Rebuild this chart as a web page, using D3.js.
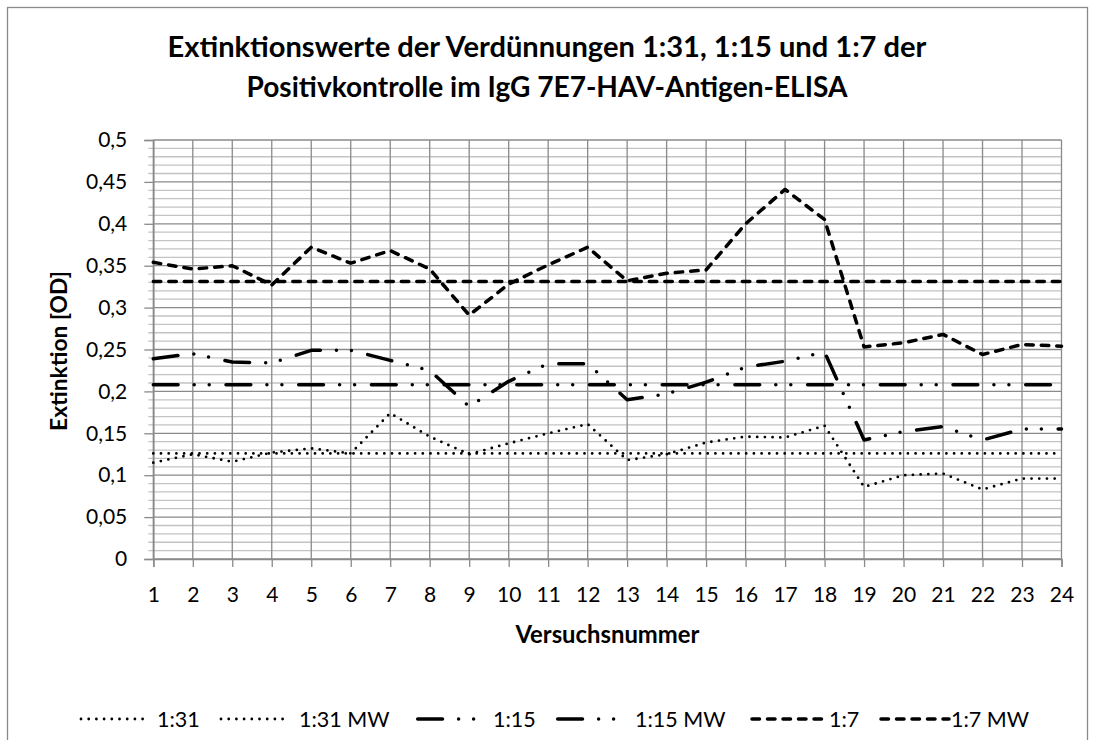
<!DOCTYPE html>
<html>

<head>
    <meta charset="utf-8">
    <title>Extinktionswerte Positivkontrolle</title>
    <script src="https://cdn.jsdelivr.net/npm/d3@7"></script>
    <style>
        body { margin: 0; background: #fff; }
        svg { display: block; font-family: Lato, "Open Sans", sans-serif; }
    </style>
</head>

<body>
    <div id="chart"></div>

    <script>
        // Versuchsnummern (x-Kategorien)
        var versuche = [1, 2, 3, 4, 5, 6, 7, 8, 9, 10, 11, 12, 13, 14, 15, 16, 17, 18, 19, 20, 21, 22, 23, 24];

        // Extinktion [OD] je Verdünnung
        var od131 = [0.115, 0.125, 0.116, 0.127, 0.132, 0.126, 0.174, 0.146, 0.125, 0.138, 0.150, 0.161,
            0.118, 0.125, 0.139, 0.146, 0.145, 0.159, 0.086, 0.100, 0.102, 0.083, 0.096, 0.096];
        var od131MW = [0.126, 0.126, 0.126, 0.126, 0.126, 0.126, 0.126, 0.126, 0.126, 0.126, 0.126, 0.126,
            0.126, 0.126, 0.126, 0.126, 0.126, 0.126, 0.126, 0.126, 0.126, 0.126, 0.126, 0.126];
        var od115 = [0.239, 0.245, 0.235, 0.234, 0.249, 0.249, 0.237, 0.225, 0.182, 0.212, 0.233, 0.233,
            0.190, 0.197, 0.211, 0.229, 0.236, 0.247, 0.142, 0.152, 0.158, 0.142, 0.155, 0.155];
        var od115MW = [0.208, 0.208, 0.208, 0.208, 0.208, 0.208, 0.208, 0.208, 0.208, 0.208, 0.208, 0.208,
            0.208, 0.208, 0.208, 0.208, 0.208, 0.208, 0.208, 0.208, 0.208, 0.208, 0.208, 0.208];
        var od17 = [0.354, 0.346, 0.350, 0.327, 0.372, 0.353, 0.368, 0.346, 0.291, 0.328, 0.351, 0.372,
            0.332, 0.341, 0.345, 0.400, 0.441, 0.405, 0.253, 0.258, 0.268, 0.244, 0.256, 0.254];
        var od17MW = [0.331, 0.331, 0.331, 0.331, 0.331, 0.331, 0.331, 0.331, 0.331, 0.331, 0.331, 0.331,
            0.331, 0.331, 0.331, 0.331, 0.331, 0.331, 0.331, 0.331, 0.331, 0.331, 0.331, 0.331];

        // Achsenbeschriftung
        var yTicks = [0, 0.05, 0.1, 0.15, 0.2, 0.25, 0.3, 0.35, 0.4, 0.45, 0.5];
        var seriesNames = ["1:31", "1:31 MW", "1:15", "1:15 MW", "1:7", "1:7 MW"];
        var titleLines = ["Extinktionswerte der Verdünnungen 1:31, 1:15 und 1:7 der",
            "Positivkontrolle im IgG 7E7-HAV-Antigen-ELISA"];

        // Linienstile (gepunktet, Strich-Punkt-Punkt, gestrichelt)
        var dotted = { width: 2.8, dash: "0 7.7" };
        var dashDotDot = { width: 3.5, dash: "24.8 16.1 0 15 0 16.8" };
        var dashed = { width: 3.5, dash: "7.5 8" };

        var series = [
            { name: seriesNames[0], values: od131, style: dotted },
            { name: seriesNames[1], values: od131MW, style: dotted },
            { name: seriesNames[2], values: od115, style: dashDotDot },
            { name: seriesNames[3], values: od115MW, style: dashDotDot },
            { name: seriesNames[4], values: od17, style: dashed },
            { name: seriesNames[5], values: od17MW, style: dashed }
        ];

        var W = 1095, H = 740;
        var plot = { left: 153.3, right: 1061.5, top: 140, bottom: 559 };
        var gridDark = "#8a8a8a", gridLight = "#c3c3c3";

        var svg = d3.select("#chart").append("svg")
            .attr("width", W)
            .attr("height", H);

        // Text auf eine Zielbreite bringen (Calibri ist nicht vorhanden)
        function fitText(txt, target, base) {
            txt.style("font-size", base + "px");
            var w = txt.node().getComputedTextLength();
            txt.style("font-size", (base * target / w).toFixed(2) + "px");
        }

        // Diagrammrahmen
        svg.append("rect")
            .attr("x", 7.5).attr("y", 7.5)
            .attr("width", 1080).attr("height", 760)
            .attr("fill", "#fff")
            .attr("stroke", "#8a8a8a")
            .attr("stroke-width", 1.3);

        var x = d3.scalePoint().domain(versuche).range([plot.left, plot.right]);
        var y = d3.scaleLinear().domain([0, 0.5]).range([plot.bottom, plot.top]);

        var de = d3.formatLocale({ decimal: ",", thousands: ".", grouping: [3], currency: ["", " €"] });
        var fmt = de.format("~g");

        // Hilfsgitternetz (alle 0,01) inkl. kleiner Teilstriche
        var minor = y.ticks(50).filter(d => yTicks.indexOf(+d.toFixed(2)) < 0);
        svg.append("g").selectAll("line")
            .data(minor)
            .join("line")
            .attr("x1", plot.left - 5).attr("x2", plot.right)
            .attr("y1", d => y(d)).attr("y2", d => y(d))
            .attr("stroke", gridLight)
            .attr("stroke-width", 1.3);

        // Hauptgitternetz horizontal
        svg.append("g").selectAll("line")
            .data(yTicks)
            .join("line")
            .attr("x1", plot.left).attr("x2", plot.right)
            .attr("y1", d => y(d)).attr("y2", d => y(d))
            .attr("stroke", gridDark)
            .attr("stroke-width", 1.3);

        // Gitternetz vertikal
        svg.append("g").selectAll("line")
            .data(versuche)
            .join("line")
            .attr("x1", d => x(d)).attr("x2", d => x(d))
            .attr("y1", plot.top).attr("y2", plot.bottom)
            .attr("stroke", gridDark)
            .attr("stroke-width", 1.3);

        // Y-Achse
        var yAxis = svg.append("g")
            .attr("transform", `translate(${plot.left},0)`)
            .call(d3.axisLeft(y).tickValues(yTicks).tickSize(9).tickPadding(17).tickFormat(fmt));

        // X-Achse
        var xAxis = svg.append("g")
            .attr("transform", `translate(0,${plot.bottom})`)
            .call(d3.axisBottom(x).tickSize(8).tickPadding(20));

        [yAxis, xAxis].forEach(function (a) {
            a.select(".domain").attr("stroke", gridDark).attr("stroke-width", 1.6);
            a.selectAll(".tick line").attr("stroke", gridDark).attr("stroke-width", 1.3);
            a.selectAll("text")
                .attr("fill", "#000")
                .style("font-size", "21px")
                .style("font-family", "Lato, sans-serif");
        });

        // Datenlinien
        var line = d3.line()
            .x((d, i) => x(versuche[i]))
            .y(d => y(d));

        svg.append("g").selectAll("path")
            .data(series)
            .join("path")
            .attr("d", d => line(d.values))
            .attr("fill", "none")
            .attr("stroke", "#000")
            .attr("stroke-width", d => d.style.width)
            .attr("stroke-dasharray", d => d.style.dash)
            .attr("stroke-linecap", "round")
            .attr("stroke-linejoin", "round");

        // Titel
        var titleWidths = [759, 601];
        var titleBase = [57, 97];
        titleLines.forEach(function (t, i) {
            var txt = svg.append("text")
                .attr("x", 547)
                .attr("y", titleBase[i])
                .attr("text-anchor", "middle")
                .style("font-weight", "bold")
                .text(t);
            fitText(txt, titleWidths[i], 26);
        });

        // Achsentitel
        var yTitle = svg.append("text")
            .attr("transform", "translate(67,351) rotate(-90)")
            .attr("text-anchor", "middle")
            .style("font-weight", "bold")
            .text("Extinktion [OD]");
        fitText(yTitle, 160, 22);

        var xTitle = svg.append("text")
            .attr("x", (plot.left + plot.right) / 2)
            .attr("y", 643)
            .attr("text-anchor", "middle")
            .style("font-weight", "bold")
            .text("Versuchsnummer");
        fitText(xTitle, 184, 22);

        // Legende
        var legX = [81, 221, 417.7, 557.7, 752, 881];
        var legEnd = [145, 286, 476, 616, 824, 949];
        var legText = [157, 299, 493, 635, 829, 951];
        var leg = svg.append("g");
        series.forEach(function (s, i) {
            leg.append("line")
                .attr("x1", legX[i]).attr("x2", legEnd[i])
                .attr("y1", 719).attr("y2", 719)
                .attr("stroke", "#000")
                .attr("stroke-width", s.style.width)
                .attr("stroke-dasharray", s.style.dash)
                .attr("stroke-linecap", "round");
            leg.append("text")
                .attr("x", legText[i])
                .attr("y", 727)
                .style("font-size", "21.5px")
                .text(s.name);
        });
    </script>
</body>

</html>
